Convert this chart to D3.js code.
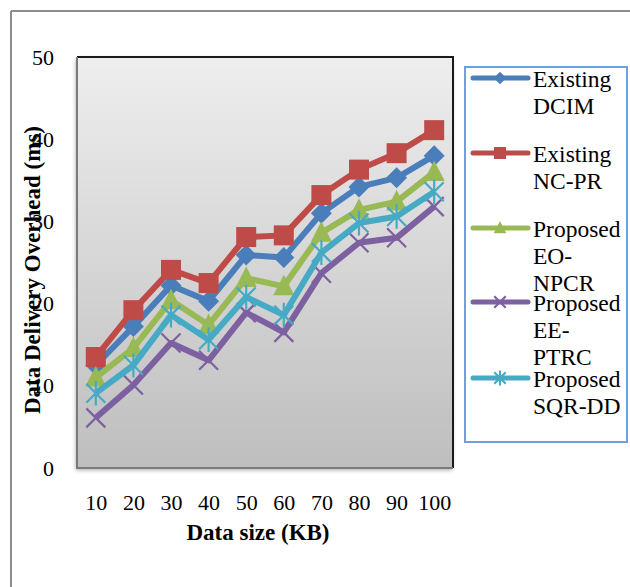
<!DOCTYPE html>
<html lang="en">
  <head>
    <meta charset="UTF-8" />
    <title>Data Delivery Overhead</title>
    <style>
      body { margin: 0; background: #fff; }
      svg { display: block; font-family: "Liberation Serif", "Times New Roman", serif; }
    </style>
  </head>
  <body>
    <svg id="chart" width="630" height="587"></svg>
    <script src="https://cdn.jsdelivr.net/npm/d3@7/dist/d3.min.js"></script>
    <script>
      const categories = [10, 20, 30, 40, 50, 60, 70, 80, 90, 100];
      const yTicks = [0, 10, 20, 30, 40, 50];

      const dcim = [12.5, 17.2, 22.2, 20.3, 25.9, 25.6, 31.0, 34.2, 35.3, 38.0];
      const ncpr = [13.5, 19.2, 24.1, 22.5, 28.1, 28.3, 33.2, 36.3, 38.3, 41.1];
      const eonpcr = [11.0, 14.6, 20.4, 17.4, 23.1, 22.1, 28.6, 31.4, 32.4, 36.0];
      const eeptrc = [6.1, 10.1, 15.2, 13.1, 18.9, 16.5, 23.7, 27.4, 28.0, 31.8];
      const sqrdd = [9.1, 12.5, 18.6, 15.6, 20.8, 18.6, 26.2, 29.8, 30.6, 33.6];

      const series = [
        { name: ["Existing", "DCIM"], values: dcim, color: "#4a7ebb", marker: "diamond" },
        { name: ["Existing", "NC-PR"], values: ncpr, color: "#be4b48", marker: "square" },
        { name: ["Proposed", "EO-", "NPCR"], values: eonpcr, color: "#98b954", marker: "triangle" },
        { name: ["Proposed", "EE-", "PTRC"], values: eeptrc, color: "#7d60a0", marker: "x" },
        { name: ["Proposed", "SQR-DD"], values: sqrdd, color: "#46aac5", marker: "star" }
      ];

      const svg = d3.select("#chart");
      const plot = { x0: 77, x1: 453, y0: 57, y1: 468 };

      const x = d3.scalePoint().domain(categories).range([plot.x0, plot.x1]).padding(0.5);
      const y = d3.scaleLinear().domain([0, 50]).range([plot.y1, plot.y0]);

      // outer frame (only top and left edges show)
      svg.append("line").attr("x1", 11).attr("y1", 11).attr("x2", 630).attr("y2", 11)
        .attr("stroke", "#8c8c8c").attr("stroke-width", 2);
      svg.append("line").attr("x1", 11).attr("y1", 11).attr("x2", 11).attr("y2", 587)
        .attr("stroke", "#8c8c8c").attr("stroke-width", 2);

      const defs = svg.append("defs");
      const grad = defs.append("linearGradient").attr("id", "bg")
        .attr("x1", 0).attr("y1", 0).attr("x2", 0).attr("y2", 1);
      grad.append("stop").attr("offset", "0%").attr("stop-color", "#eeeeee");
      grad.append("stop").attr("offset", "100%").attr("stop-color", "#bebebe");

      const shadow = defs.append("filter").attr("id", "shadow")
        .attr("x", "-10%").attr("y", "-10%").attr("width", "120%").attr("height", "120%");
      shadow.append("feDropShadow").attr("dx", -1).attr("dy", 2).attr("stdDeviation", 2)
        .attr("flood-color", "#000").attr("flood-opacity", 0.35);

      // plot area
      svg.append("rect")
        .attr("x", plot.x0).attr("y", plot.y0)
        .attr("width", plot.x1 - plot.x0).attr("height", plot.y1 - plot.y0)
        .attr("fill", "url(#bg)").attr("filter", "url(#shadow)");
      svg.append("path")
        .attr("d", `M${plot.x0},${plot.y0} H${plot.x1} V${plot.y1}`)
        .attr("fill", "none").attr("stroke", "#1a1a1a").attr("stroke-width", 2);
      svg.append("path")
        .attr("d", `M${plot.x0},${plot.y0} V${plot.y1} H${plot.x1}`)
        .attr("fill", "none").attr("stroke", "#7a7a7a").attr("stroke-width", 2);

      // axes
      const yAxis = svg.append("g").attr("transform", "translate(54,0)")
        .call(d3.axisLeft(y).tickValues(yTicks).tickSize(0).tickPadding(0));
      yAxis.select(".domain").remove();
      yAxis.selectAll("text").attr("font-size", 22).attr("font-family", "Liberation Serif").attr("fill", "#000");

      const xAxis = svg.append("g").attr("transform", "translate(0,494)")
        .call(d3.axisBottom(x).tickSize(0).tickPadding(0));
      xAxis.select(".domain").remove();
      xAxis.selectAll("text").attr("font-size", 22).attr("font-family", "Liberation Serif").attr("fill", "#000");

      svg.append("text").attr("x", 258).attr("y", 540).attr("text-anchor", "middle")
        .attr("font-size", 23).attr("font-weight", "bold").text("Data size (KB)");
      svg.append("text").attr("transform", "translate(40,270) rotate(-90)").attr("text-anchor", "middle")
        .attr("font-size", 23).attr("font-weight", "bold").text("Data Delivery Overhead (ms)");

      function drawMarker(g, type, color, s) {
        if (type === "diamond") {
          g.append("path").attr("d", `M0,${-s} L${s},0 L0,${s} L${-s},0Z`).attr("fill", color);
        } else if (type === "square") {
          g.append("rect").attr("x", -s).attr("y", -s).attr("width", 2 * s).attr("height", 2 * s).attr("fill", color);
        } else if (type === "triangle") {
          g.append("path").attr("d", `M0,${-s * 1.1} L${s},${s * 0.85} L${-s},${s * 0.85}Z`).attr("fill", color);
        } else if (type === "x") {
          g.append("path").attr("d", `M${-s},${-s} L${s},${s} M${-s},${s} L${s},${-s}`)
            .attr("stroke", color).attr("stroke-width", 2.2);
        } else {
          g.append("path").attr("d", `M${-s},${-s} L${s},${s} M${-s},${s} L${s},${-s} M0,${-s * 1.3} V${s * 1.3}`)
            .attr("stroke", color).attr("stroke-width", 2.2);
        }
      }

      const line = d3.line().x((d, i) => x(categories[i])).y(d => y(d));
      const markerSize = { diamond: 10.5, square: 10, triangle: 10.5, x: 9.5, star: 9.5 };

      series.forEach(s => {
        const g = svg.append("g");
        g.append("path").datum(s.values).attr("d", line)
          .attr("fill", "none").attr("stroke", s.color).attr("stroke-width", 6)
          .attr("stroke-linejoin", "round");
        s.values.forEach((v, i) => {
          const m = g.append("g").attr("transform", `translate(${x(categories[i])},${y(v)})`);
          drawMarker(m, s.marker, s.color, markerSize[s.marker]);
        });
      });

      // legend
      const legend = svg.append("g");
      legend.append("rect").attr("x", 465).attr("y", 67).attr("width", 162).attr("height", 375)
        .attr("fill", "#fff").attr("stroke", "#6f9fe0").attr("stroke-width", 2);
      const legendTop = [78, 153, 228, 302, 378];
      series.forEach((s, k) => {
        const ly = legendTop[k];
        legend.append("line").attr("x1", 473).attr("x2", 528).attr("y1", ly).attr("y2", ly)
          .attr("stroke", s.color).attr("stroke-width", 5).attr("stroke-linecap", "round");
        const m = legend.append("g").attr("transform", `translate(500,${ly})`);
        drawMarker(m, s.marker, s.color, markerSize[s.marker] * 0.6);
        s.name.forEach((t, j) => {
          legend.append("text").attr("x", 533).attr("y", ly + 9 + j * 27)
            .attr("font-size", 23.5).attr("fill", "#000").text(t);
        });
      });
    </script>
  </body>
</html>
